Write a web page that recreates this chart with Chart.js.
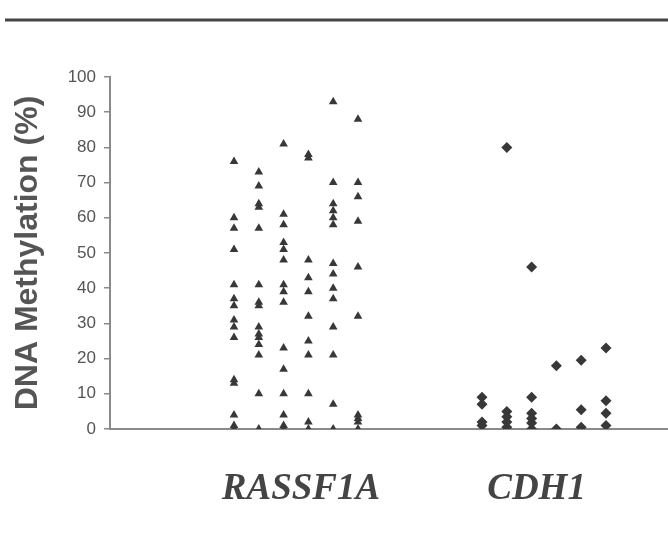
<!DOCTYPE html>
<html>
<head>
<meta charset="utf-8">
<script src="https://cdn.jsdelivr.net/npm/chart.js@4.4.1/dist/chart.umd.min.js"></script>
<style>
  html, body { margin: 0; padding: 0; background: #fff; }
  #wrap { position: relative; width: 668px; height: 537px; }
</style>
</head>
<body>
<div id="wrap"><canvas id="c" width="668" height="537"></canvas></div>
<script>
// Categories (genes)
const categories = ["RASSF1A", "CDH1"];
// Y tick labels
const yTicks = [0, 10, 20, 30, 40, 50, 60, 70, 80, 90, 100];

// RASSF1A methylation values (%), one array per sample column
const rassf1aCol1 = [76, 60, 57, 51, 41, 37, 35, 31, 29, 26, 14, 13, 4, 1, 0];
const rassf1aCol2 = [73, 69, 64, 63, 57, 41, 36, 35, 29, 27, 26, 24, 21, 10, 0];
const rassf1aCol3 = [81, 61, 58, 53, 51, 48, 41, 39, 36, 23, 17, 10, 4, 1, 0];
const rassf1aCol4 = [78, 77, 48, 43, 39, 32, 25, 21, 10, 2, 0];
const rassf1aCol5 = [93, 70, 64, 62, 60, 58, 47, 44, 40, 37, 29, 21, 7, 0];
const rassf1aCol6 = [88, 70, 66, 59, 46, 32, 4, 3, 2, 0];

// CDH1 methylation values (%), one array per sample column
const cdh1Col1 = [9, 7, 2, 1];
const cdh1Col2 = [80, 5, 3.5, 2, 0.5];
const cdh1Col3 = [46, 9, 4.5, 3, 1.7, 0];
const cdh1Col4 = [18, 0];
const cdh1Col5 = [19.5, 5.5, 0.5];
const cdh1Col6 = [23, 8, 4.5, 1];

const rassf1aCols = [rassf1aCol1, rassf1aCol2, rassf1aCol3, rassf1aCol4, rassf1aCol5, rassf1aCol6];
const cdh1Cols = [cdh1Col1, cdh1Col2, cdh1Col3, cdh1Col4, cdh1Col5, cdh1Col6];

const groupStart = [1, 11];
const groupCenter = [3.7, 13.2];

function pts(cols, start) {
  const out = [];
  cols.forEach((col, i) => col.forEach(v => out.push({ x: start + i, y: v })));
  return out;
}

const markColor = '#383838';

const topRule = {
  id: 'topRule',
  afterDraw(chart) {
    const ctx = chart.ctx;
    ctx.save();
    ctx.strokeStyle = '#444';
    ctx.lineWidth = 3;
    ctx.beginPath();
    ctx.moveTo(5, 20);
    ctx.lineTo(668, 20);
    ctx.stroke();
    ctx.restore();
  }
};

new Chart(document.getElementById('c'), {
  type: 'scatter',
  data: {
    datasets: [
      {
        label: categories[0],
        data: pts(rassf1aCols, groupStart[0]),
        pointStyle: 'triangle',
        radius: 5,
        backgroundColor: markColor,
        borderColor: markColor,
        borderWidth: 0
      },
      {
        label: categories[1],
        data: pts(cdh1Cols, groupStart[1]),
        pointStyle: 'rectRot',
        radius: 5.5,
        backgroundColor: markColor,
        borderColor: markColor,
        borderWidth: 0
      }
    ]
  },
  options: {
    responsive: false,
    animation: false,
    devicePixelRatio: 1,
    layout: { autoPadding: false, padding: { top: 77, right: 0, left: 0, bottom: 0 } },
    plugins: {
      legend: { display: false },
      tooltip: { enabled: false }
    },
    scales: {
      x: {
        type: 'linear',
        min: -4,
        max: 18.5,
        afterBuildTicks(scale) {
          scale.ticks = groupCenter.map(v => ({ value: v }));
        },
        afterFit(scale) {
          scale.height = 108;
          scale.paddingLeft = 0;
          scale.paddingRight = 0;
        },
        ticks: {
          callback(value) {
            const i = groupCenter.indexOf(value);
            return i >= 0 ? categories[i] : '';
          },
          font: { family: 'Liberation Serif', size: 37, style: 'italic', weight: 'bold' },
          color: '#444',
          padding: 38,
          maxRotation: 0,
          autoSkip: false
        },
        grid: { display: false, drawTicks: false },
        border: { display: true, color: '#8a8a8a', width: 2 }
      },
      y: {
        min: 0,
        max: 100,
        afterBuildTicks(scale) {
          scale.ticks = yTicks.map(v => ({ value: v }));
        },
        afterFit(scale) { scale.width = 110; },
        ticks: {
          font: { family: 'Liberation Sans', size: 17 },
          color: '#555',
          padding: 8
        },
        grid: {
          drawOnChartArea: false,
          drawTicks: true,
          tickLength: 6,
          color: '#8a8a8a',
          lineWidth: 1.5
        },
        border: { display: true, color: '#8a8a8a', width: 2 },
        title: {
          display: true,
          text: 'DNA Methylation (%)',
          font: { family: 'Liberation Sans', size: 32, weight: 'bold' },
          color: '#555',
          padding: { top: 9, bottom: 0 }
        }
      }
    }
  },
  plugins: [topRule]
});
</script>
</body>
</html>
